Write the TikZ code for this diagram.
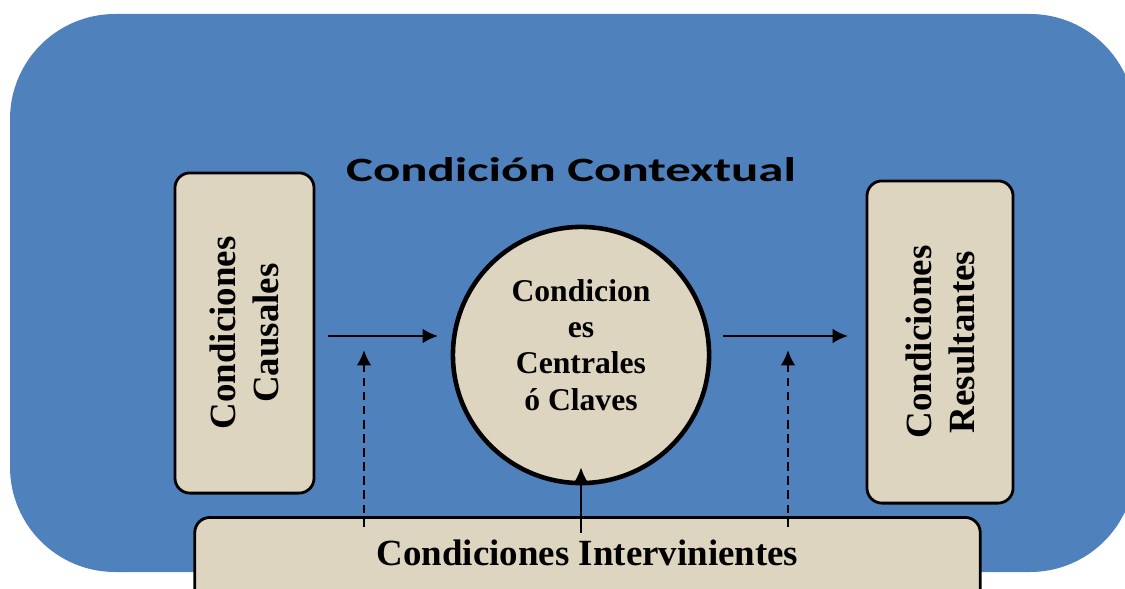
\documentclass[tikz,border=0pt]{standalone}
\usepackage{fontspec}
\setmainfont{Liberation Serif}
\newfontfamily\titlefont{Carlito}
\usetikzlibrary{positioning,arrows.meta}

\definecolor{fondo}{RGB}{79,129,189}
\definecolor{lino}{RGB}{222,213,192}

\tikzset{
  caja/.style={draw=black, line width=0.8pt, fill=lino, rounded corners=0.15cm,
    rotate=90, align=center, inner sep=0pt,
    font=\fontsize{10.5}{12.2}\selectfont\bfseries},
  nucleo/.style={circle, draw=black, line width=1.3pt, fill=lino,
    minimum size=2.56cm, inner sep=0pt},
  textonucleo/.style={align=center, inner sep=0pt,
    font=\fontsize{9}{10.3}\selectfont\bfseries},
  flecha/.style={-{Latex[length=4.4pt,width=4.2pt]}, line width=0.65pt},
  influye/.style={flecha, dash pattern=on 2.4pt off 1.6pt}
}

\begin{document}
\begin{tikzpicture}[x=0.01cm, y=-0.01cm]
  \useasboundingbox (0,0) rectangle (1125,588);
  \clip (0,0) rectangle (1125,588);
  % fondo azul
  \fill[fondo, rounded corners=1.05cm] (10,14) rectangle (1135,572);
  \node[font=\titlefont\fontsize{9.7}{11}\selectfont\bfseries, inner sep=0pt]
    (titulo) at (571,170) {\scalebox{1.49}[1]{Condición Contextual}};

  % cajas laterales y nucleo
  \node[caja, minimum width=3.2cm, minimum height=1.39cm] (causales)
    at (244.5,333) {Condiciones\\Causales};
  \node[caja, minimum width=3.22cm, minimum height=1.46cm] (resultantes)
    at (940,342) {Condiciones\\Resultantes};
  \node[nucleo] (nucleo) at (581,355) {};
  \node[textonucleo] (claves) at (581,345) {Condicion\\es\\Centrales\\ó Claves};

  \coordinate (c1) at (328,336);
  \coordinate (c2) at (438,336);
  \coordinate (r1) at (723,336);
  \coordinate (r2) at (848,336);
  \draw[flecha] (c1) -- (c2);
  \draw[flecha] (r1) -- (r2);

  % condiciones intervinientes
  \node[draw=black, line width=0.8pt, fill=lino, rounded corners=0.15cm,
    minimum width=7.85cm, minimum height=0.95cm] (interv) at (587.5,565) {};
  \node[font=\fontsize{10.5}{12}\selectfont\bfseries, inner sep=0pt]
    (intervtexto) at (587.5,553) {Condiciones Intervinientes};
  \coordinate (i1) at (364,527);
  \coordinate (i2) at (364,350);
  \coordinate (i3) at (788,527);
  \coordinate (i4) at (788,350);
  \coordinate (i5) at (581,533);
  \draw[influye] (i1) -- (i2);
  \draw[influye] (i3) -- (i4);
  \draw[flecha] (i5) -- ([yshift=0.18cm]nucleo.south);
\end{tikzpicture}
\end{document}
